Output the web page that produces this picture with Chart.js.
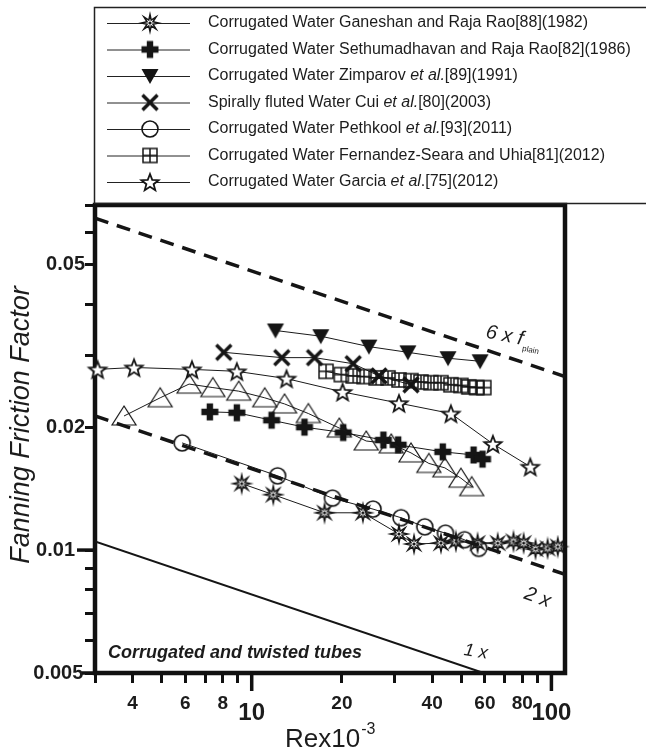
<!DOCTYPE html>
<html>
<head>
<meta charset="utf-8">
<script src="https://cdn.jsdelivr.net/npm/chart.js@4.4.1/dist/chart.umd.min.js"></script>
<style>
  html, body { margin: 0; padding: 0; background: #fff; }
  #wrap { width: 646px; height: 753px; }
</style>
</head>
<body>
<div id="wrap"><canvas id="graph" width="646" height="753"></canvas></div>
<script>
// Fanning friction factor vs Re x 10^-3, corrugated and twisted tubes (log-log)

const FONT = '"Liberation Sans", Arial, sans-serif';

const xTicks = [3, 4, 5, 6, 7, 8, 9, 10, 20, 30, 40, 50, 60, 70, 80, 90, 100];
const xTickLabels = { 4: '4', 6: '6', 8: '8', 10: '10', 20: '20', 40: '40', 60: '60', 80: '80', 100: '100' };
const yTicks = [0.005, 0.006, 0.007, 0.008, 0.009, 0.01, 0.02, 0.03, 0.04, 0.05, 0.06, 0.07];
const yTickLabels = { 0.005: '0.005\u200a', 0.01: '0.01\u2002', 0.02: '0.02', 0.05: '0.05' };

const ganeshanRe = [9.26, 11.8, 17.5, 23.5, 31.0, 34.8, 42.8, 48.0, 56.7, 66.2, 74.7, 80.8, 88.5, 97.1, 105];
const ganeshanF = [0.01455, 0.01367, 0.01234, 0.01234, 0.01095, 0.01035, 0.0104, 0.0105, 0.0104, 0.0104, 0.0105, 0.0104, 0.01006, 0.0101, 0.0102];

const sethuRe = [7.25, 8.92, 11.65, 15.0, 20.2, 27.5, 30.8, 43.4, 55.0, 58.9];
const sethuF = [0.0218, 0.0217, 0.0208, 0.0200, 0.0194, 0.0186, 0.0181, 0.0174, 0.0171, 0.0167];

const zimparovRe = [12.0, 17.0, 24.6, 33.2, 45.2, 57.8];
const zimparovF = [0.0345, 0.0334, 0.0315, 0.0305, 0.0295, 0.0290];

const cuiRe = [8.07, 12.6, 16.2, 21.8, 26.6, 34.0];
const cuiF = [0.0305, 0.0296, 0.0296, 0.0286, 0.0267, 0.0254];

const pethkoolRe = [5.86, 12.2, 18.6, 25.4, 31.5, 37.8, 44.3, 51.3, 57.2];
const pethkoolF = [0.0183, 0.0152, 0.0134, 0.0126, 0.0120, 0.0114, 0.0110, 0.0106, 0.0101];

const fernandezRe = [17.7, 19.9, 21.8, 23.7, 26.0, 28.5, 31.0, 34.0, 36.7, 39.6, 42.8, 46.2, 49.9, 53.0, 56.3, 59.5];
const fernandezF = [0.0274, 0.0269, 0.0267, 0.0266, 0.0264, 0.0264, 0.0261, 0.0260, 0.0258, 0.0257, 0.0257, 0.0254, 0.0253, 0.0251, 0.0250, 0.0250];

const garciaRe = [3.06, 4.05, 6.32, 8.92, 13.07, 20.1, 31.0, 46.2, 63.8, 85.0];
const garciaF = [0.0277, 0.0280, 0.0277, 0.0274, 0.0263, 0.0244, 0.0229, 0.0216, 0.0182, 0.0160];

// open triangles, not in the legend
const triangleRe = [3.75, 4.95, 6.18, 7.42, 9.05, 11.05, 12.87, 15.45, 19.6, 24.1, 29.2, 34.0, 39.0, 44.1, 49.9, 54.2];
const triangleF = [0.0213, 0.0236, 0.0255, 0.0250, 0.0245, 0.0236, 0.0228, 0.0216, 0.0199, 0.0185, 0.0182, 0.0173, 0.0163, 0.0159, 0.0150, 0.0143];

// plain tube reference lines (end points)
const refRe = [3, 111];
const sixPlainF = [0.065, 0.0266];
const twoPlainF = [0.0213, 0.00872];
const onePlainRe = [3, 59.4];
const onePlainF = [0.0105, 0.005];

const seriesNames = [
  ['Corrugated Water Ganeshan and Raja Rao[88](1982)'],
  ['Corrugated Water Sethumadhavan and Raja Rao[82](1986)'],
  ['Corrugated Water Zimparov ', 'et al.', '[89](1991)'],
  ['Spirally fluted Water Cui ', 'et al.', '[80](2003)'],
  ['Corrugated Water Pethkool ', 'et al.', '[93](2011)'],
  ['Corrugated Water Fernandez-Seara and Uhia[81](2012)'],
  ['Corrugated Water Garcia ', 'et al', '.[75](2012)']
];
const markerKinds = ['burst', 'plus', 'triDown', 'cross', 'circle', 'boxPlus', 'star'];

function marker(kind) {
  const c = document.createElement('canvas');
  const s = kind === 'triOpen' ? 30 : 24;
  c.width = s; c.height = s;
  const g = c.getContext('2d');
  const m = s / 2;
  g.strokeStyle = '#151515';
  g.fillStyle = '#151515';
  g.beginPath();
  if (kind === 'burst') {
    for (let i = 0; i < 16; i++) {
      const r = i % 2 ? 3.2 : 8.5;
      const a = i * Math.PI / 8;
      g.lineTo(m + r * Math.sin(a), m - r * Math.cos(a));
    }
    g.closePath();
    g.fillStyle = '#fff'; g.fill();
    g.lineWidth = 1.5; g.stroke();
    g.beginPath(); g.arc(m, m, 1.6, 0, Math.PI * 2);
    g.fillStyle = '#151515'; g.fill();
  } else if (kind === 'plus') {
    const a = 3.2, b = 8.5;
    g.moveTo(m - a, m - b); g.lineTo(m + a, m - b); g.lineTo(m + a, m - a); g.lineTo(m + b, m - a);
    g.lineTo(m + b, m + a); g.lineTo(m + a, m + a); g.lineTo(m + a, m + b); g.lineTo(m - a, m + b);
    g.lineTo(m - a, m + a); g.lineTo(m - b, m + a); g.lineTo(m - b, m - a); g.lineTo(m - a, m - a);
    g.closePath(); g.fill();
  } else if (kind === 'triDown') {
    g.moveTo(m - 8.5, m - 7); g.lineTo(m + 8.5, m - 7); g.lineTo(m, m + 8);
    g.closePath(); g.fill();
  } else if (kind === 'cross') {
    g.lineWidth = 3.5;
    g.moveTo(m - 7.5, m - 7.5); g.lineTo(m + 7.5, m + 7.5);
    g.moveTo(m + 7.5, m - 7.5); g.lineTo(m - 7.5, m + 7.5);
    g.stroke();
  } else if (kind === 'circle') {
    g.lineWidth = 1.6; g.arc(m, m, 8, 0, Math.PI * 2); g.stroke();
  } else if (kind === 'boxPlus') {
    g.lineWidth = 1.5;
    g.rect(m - 7, m - 7, 14, 14);
    g.moveTo(m, m - 7); g.lineTo(m, m + 7);
    g.moveTo(m - 7, m); g.lineTo(m + 7, m);
    g.stroke();
  } else if (kind === 'star') {
    for (let i = 0; i < 10; i++) {
      const r = i % 2 ? 3.8 : 9;
      const a = i * Math.PI / 5;
      g.lineTo(m + r * Math.sin(a), m + 1 - r * Math.cos(a));
    }
    g.closePath();
    g.fillStyle = '#fff'; g.fill();
    g.lineWidth = 1.8; g.stroke();
  } else if (kind === 'triOpen') {
    g.lineWidth = 1.2;
    g.moveTo(m, m - 10); g.lineTo(m + 12, m + 9); g.lineTo(m - 12, m + 9);
    g.closePath(); g.stroke();
  }
  return c;
}

const markers = {};
markerKinds.concat(['triOpen']).forEach(k => { markers[k] = marker(k); });

const pts = (xs, ys) => xs.map((x, i) => ({ x: x, y: ys[i] }));

const refLine = (xs, ys, dash, width) => ({
  data: pts(xs, ys), showLine: true, borderColor: '#151515', borderWidth: width,
  borderDash: dash, pointRadius: 0, fill: false
});
const series = (xs, ys, kind) => ({
  data: pts(xs, ys), showLine: true, borderColor: '#1a1a1a', borderWidth: 1,
  pointStyle: markers[kind], pointRadius: 8, clip: 14, fill: false
});

function drawParts(ctx, parts, x, y, size) {
  parts.forEach((p, i) => {
    ctx.font = (i % 2 ? 'italic ' : '') + size + 'px ' + FONT;
    ctx.fillText(p, x, y);
    x += ctx.measureText(p).width;
  });
}

const decor = {
  id: 'decor',
  beforeDatasetsDraw(chart) {
    const { ctx, chartArea: a } = chart;
    const xs = chart.scales.x, ys = chart.scales.y;
    ctx.save();
    ctx.strokeStyle = '#111';
    ctx.lineWidth = 4.5;
    ctx.strokeRect(a.left, a.top, a.right - a.left, a.bottom - a.top);
    ctx.lineWidth = 3.5;
    [10, 100].forEach(v => {
      const p = xs.getPixelForValue(v);
      ctx.beginPath(); ctx.moveTo(p, a.bottom); ctx.lineTo(p, a.bottom + 18); ctx.stroke();
    });
    const p = ys.getPixelForValue(0.01);
    ctx.beginPath(); ctx.moveTo(a.left - 18, p); ctx.lineTo(a.left, p); ctx.stroke();
    const p5 = ys.getPixelForValue(0.005);
    ctx.beginPath(); ctx.moveTo(a.left - 13, p5); ctx.lineTo(a.left, p5); ctx.stroke();
    ctx.restore();
  },
  afterDraw(chart) {
    const { ctx } = chart;
    ctx.save();
    ctx.fillStyle = '#1c1c1c';
    ctx.strokeStyle = '#222';

    // legend box
    ctx.lineWidth = 1.5;
    ctx.strokeRect(94.5, 7.5, 700, 196);
    ctx.textBaseline = 'middle';
    ctx.textAlign = 'left';
    seriesNames.forEach((parts, i) => {
      const y = 23 + i * 26.5;
      ctx.lineWidth = 1;
      ctx.beginPath(); ctx.moveTo(107, y + 0.5); ctx.lineTo(190, y + 0.5); ctx.stroke();
      const mk = markers[markerKinds[i]];
      ctx.drawImage(mk, 150 - mk.width / 2, y - mk.height / 2);
      drawParts(ctx, parts, 208, y, 16);
    });

    // notes inside the plot
    ctx.font = 'bold italic 18px ' + FONT;
    ctx.fillText('Corrugated and twisted tubes', 108, 653);

    ctx.save();
    ctx.translate(486, 332); ctx.rotate(0.2);
    ctx.font = 'italic 20px ' + FONT;
    ctx.fillText('6 x f', 0, 0);
    const w6 = ctx.measureText('6 x f').width;
    ctx.font = '8px ' + FONT;
    ctx.fillText('plain', w6 + 1, 9);
    ctx.restore();

    ctx.save();
    ctx.translate(525, 593); ctx.rotate(0.35);
    ctx.font = 'italic 20px ' + FONT;
    ctx.fillText('2 x', 0, 0);
    ctx.restore();

    ctx.save();
    ctx.translate(464, 650); ctx.rotate(0.15);
    ctx.font = 'italic 18px ' + FONT;
    ctx.fillText('1 x', 0, 0);
    ctx.restore();

    // axis titles
    ctx.font = '26px ' + FONT;
    ctx.fillText('Rex10', 285, 740);
    const wr = ctx.measureText('Rex10').width;
    ctx.font = '16px ' + FONT;
    ctx.fillText('-3', 285 + wr + 1, 730);

    ctx.save();
    ctx.translate(21, 425); ctx.rotate(-Math.PI / 2);
    ctx.textAlign = 'center';
    ctx.font = 'italic 27px ' + FONT;
    ctx.fillText('Fanning Friction Factor', 0, 0);
    ctx.restore();

    ctx.restore();
  }
};

new Chart(document.getElementById('graph'), {
  type: 'scatter',
  data: {
    datasets: [
      refLine(refRe, sixPlainF, [14, 9], 3.5),
      refLine(refRe, twoPlainF, [14, 9], 3.5),
      refLine(onePlainRe, onePlainF, [], 2),
      series(triangleRe, triangleF, 'triOpen'),
      series(garciaRe, garciaF, 'star'),
      series(fernandezRe, fernandezF, 'boxPlus'),
      series(pethkoolRe, pethkoolF, 'circle'),
      series(cuiRe, cuiF, 'cross'),
      series(zimparovRe, zimparovF, 'triDown'),
      series(sethuRe, sethuF, 'plus'),
      series(ganeshanRe, ganeshanF, 'burst')
    ]
  },
  options: {
    responsive: false,
    animation: false,
    layout: { padding: { top: 205, right: 81, left: 0, bottom: 0 } },
    plugins: { legend: { display: false }, tooltip: { enabled: false }, title: { display: false } },
    scales: {
      x: {
        type: 'logarithmic',
        min: 3,
        max: 111,
        afterBuildTicks: s => { s.ticks = xTicks.map(v => ({ value: v })); },
        afterFit: s => { s.height = 80; },
        border: { display: false },
        grid: { drawOnChartArea: false, drawTicks: true, tickLength: 10, tickWidth: 3, tickColor: '#111' },
        ticks: {
          autoSkip: false,
          maxRotation: 0,
          padding: 9,
          color: '#1c1c1c',
          callback: v => xTickLabels[v] || '',
          font: c => (c.tick && (c.tick.value === 10 || c.tick.value === 100))
            ? { family: FONT, size: 24, weight: 'bold', lineHeight: 1.75 }
            : { family: FONT, size: 19, weight: 'bold', lineHeight: 1.2 }
        }
      },
      y: {
        type: 'logarithmic',
        min: 0.005,
        max: 0.07,
        afterBuildTicks: s => { s.ticks = yTicks.map(v => ({ value: v })); },
        afterFit: s => { s.width = 95; },
        border: { display: false },
        grid: { drawOnChartArea: false, drawTicks: true, tickLength: 10, tickWidth: 3, tickColor: '#111' },
        ticks: {
          autoSkip: false,
          padding: 0,
          color: '#1c1c1c',
          callback: v => yTickLabels[v] || '',
          font: { family: FONT, size: 20, weight: 'bold' }
        }
      }
    }
  },
  plugins: [decor]
});
</script>
</body>
</html>
